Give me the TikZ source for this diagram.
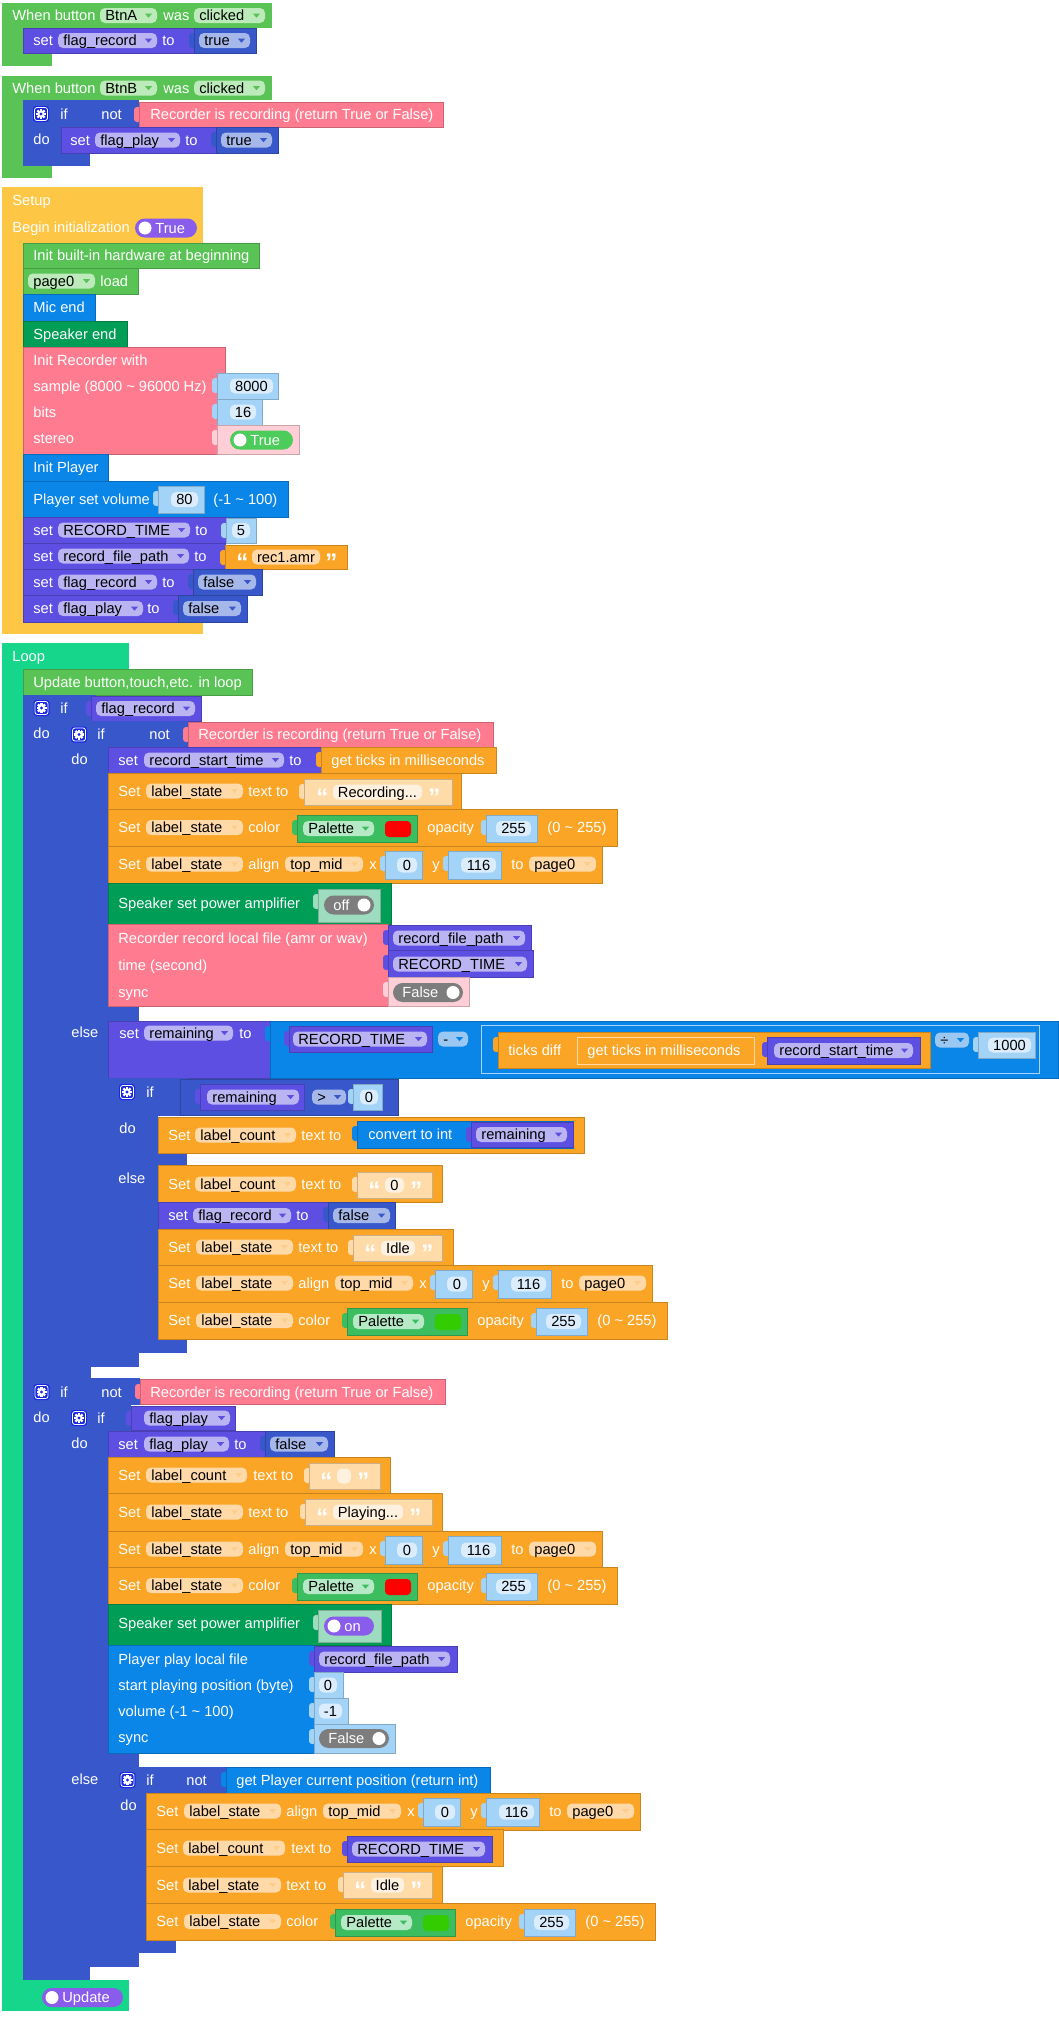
\documentclass[tikz,border=0pt]{standalone}
\usepackage{fontspec}
\setmainfont{Liberation Sans}
\usepackage{tikz}

\definecolor{evgreen}{RGB}{89,196,85}
\definecolor{evpill}{RGB}{189,234,186}
\definecolor{varset}{RGB}{94,79,227}
\definecolor{varpill}{RGB}{186,180,243}
\definecolor{logic}{RGB}{56,87,203}
\definecolor{logpill}{RGB}{166,183,234}
\definecolor{gearbg}{RGB}{25,40,225}
\definecolor{recpink}{RGB}{255,124,144}
\definecolor{pinkbg}{RGB}{255,206,214}
\definecolor{setupyel}{RGB}{254,198,69}
\definecolor{hwblue}{RGB}{10,133,232}
\definecolor{spkgreen}{RGB}{0,157,87}
\definecolor{mintbg}{RGB}{157,220,190}
\definecolor{numblk}{RGB}{163,211,247}
\definecolor{numpill}{RGB}{219,237,252}
\definecolor{lblor}{RGB}{251,165,38}
\definecolor{orpill}{RGB}{255,217,168}
\definecolor{orarrow}{RGB}{253,205,140}
\definecolor{strlight}{RGB}{255,219,170}
\definecolor{strpill}{RGB}{255,241,224}
\definecolor{loopteal}{RGB}{21,214,138}
\definecolor{palgreen}{RGB}{60,189,96}
\definecolor{palpill}{RGB}{182,233,197}
\definecolor{togpurple}{RGB}{138,92,236}
\definecolor{toggreen}{RGB}{76,204,90}
\definecolor{toggrey}{RGB}{125,125,125}
\definecolor{mathpill}{RGB}{155,200,242}
\definecolor{swred}{RGB}{255,0,0}
\definecolor{swgreen}{RGB}{51,204,0}

% plain fill / block with darker edge / value block with input tab
\newcommand{\blkf}[5]{\fill[#1] (#2,#3) rectangle (#4,#5);}
\newcommand{\blks}[5]{\filldraw[#1,draw=#1!80!black,line width=0.3pt] (#2,#3) rectangle (#4,#5);}
\newcommand{\vblk}[5]{%
  \fill[#1,rounded corners=1.5pt] (#2-5,#3+5) rectangle (#2+2,#3+20);
  \blks{#1}{#2}{#3}{#4}{#5}}
% white label
\newcommand{\lbw}[3]{\node[wtxt] at (#1,#2) {#3};}
% dropdown pill: fill, arrow, x1, x2, yc, text
\newcommand{\ddp}[6]{%
  \fill[#1,rounded corners=2.5pt] (#3,#5-7.5) rectangle (#4,#5+7.5);
  \node[ktxt] at (#3+5,#5) {#6};
  \fill[#2] (#4-12,#5-1.8) -- (#4-5,#5-1.8) -- (#4-8.5,#5+2.2) -- cycle;}
% text pill: fill, x1, x2, yc, text
\newcommand{\txp}[5]{%
  \fill[#1,rounded corners=2.5pt] (#2,#4-7.5) rectangle (#3,#4+7.5);
  \node[ktxt,anchor=center] at ({(#2+#3)/2},#4) {#5};}
\newcommand{\numv}[4]{\txp{numpill}{#1}{#2}{#3}{#4}}
\newcommand{\quo}[3]{\node[qtxt] at (#1,#2+13) {#3};}
% toggles
\newcommand{\togl}[5]{%
  \fill[#1,rounded corners=4.8pt] (#2,#4-9.5) rectangle (#3,#4+9.5);
  \fill[white] (#2+10,#4) circle (6.5);
  \lbw{#2+20}{#4}{#5}}
\newcommand{\togr}[5]{%
  \fill[#1,rounded corners=4.8pt] (#2,#4-9.5) rectangle (#3,#4+9.5);
  \fill[white] (#3-10,#4) circle (6.5);
  \lbw{#2+9}{#4}{#5}}
\newcommand{\gearicon}[2]{%
  \fill[gearbg,rounded corners=1.5pt] (#1-8,#2-8) rectangle (#1+8,#2+8);
  \draw[white,line width=0.4pt,rounded corners=1.2pt] (#1-6.5,#2-6.5) rectangle (#1+6.5,#2+6.5);
  \fill[white] (#1,#2) circle (3.6);
  \foreach \a in {0,45,90,135}
    \fill[white,shift={(#1,#2)},rotate=\a] (-1.2,-5) rectangle (1.2,5);
  \fill[gearbg] (#1,#2) circle (1.6);}
\newcommand{\alignrow}[2]{%
  \blks{lblor}{#1}{#2}{#1+494}{#2+37}
  \lbw{#1+10}{#2+18}{Set}
  \ddp{orpill}{orarrow}{#1+38}{#1+135}{#2+18}{label\_state}
  \lbw{#1+140}{#2+18}{align}
  \ddp{orpill}{orarrow}{#1+177}{#1+255}{#2+18}{top\_mid}
  \lbw{#1+261}{#2+18}{x}
  \vblk{numblk}{#1+277}{#2+5}{#1+314}{#2+33}
  \numv{#1+289}{#1+309}{#2+19}{0}
  \lbw{#1+324}{#2+18}{y}
  \vblk{numblk}{#1+340}{#2+5}{#1+393}{#2+33}
  \numv{#1+353}{#1+388}{#2+19}{116}
  \lbw{#1+403}{#2+18}{to}
  \ddp{orpill}{orarrow}{#1+421}{#1+488}{#2+18}{page0}}
\newcommand{\colorrow}[3]{%
  \blks{lblor}{#1}{#2}{#1+509}{#2+37}
  \lbw{#1+10}{#2+18.5}{Set}
  \ddp{orpill}{orarrow}{#1+38}{#1+135}{#2+18.5}{label\_state}
  \lbw{#1+140}{#2+18.5}{color}
  \vblk{palgreen}{#1+189}{#2+6}{#1+309}{#2+33}
  \ddp{palpill}{palgreen}{#1+195}{#1+266}{#2+19.5}{Palette}
  \fill[#3,rounded corners=2pt] (#1+277,#2+12) rectangle (#1+303,#2+28);
  \lbw{#1+319}{#2+18.5}{opacity}
  \vblk{numblk}{#1+378}{#2+6}{#1+429}{#2+33}
  \numv{#1+388}{#1+423}{#2+19.5}{255}
  \lbw{#1+439}{#2+18.5}{(0 \textasciitilde{} 255)}}

\begin{document}
\begin{tikzpicture}[x=0.5pt,y=-0.5pt,
    wtxt/.style={anchor=west,inner sep=0pt,text=white,text height=5.2pt,text depth=0pt,
      font=\fontsize{7.33}{8.8}\selectfont},
    ktxt/.style={wtxt,text=black},
    qtxt/.style={anchor=base west,inner sep=0pt,text=white,font=\fontsize{12}{12}\selectfont\bfseries}]
  \useasboundingbox (0,0) rectangle (1059,2018);
  \fill[white] (0,0) rectangle (1059,2018);

  % --- when BtnA clicked
  \blkf{evgreen}{2}{3}{272}{28}
  \blkf{evgreen}{2}{3}{23}{66}
  \blkf{evgreen}{2}{53}{52}{66}
  \lbw{12}{15.5}{When button}
  \ddp{evpill}{evgreen}{100}{157}{15.5}{BtnA}
  \lbw{163}{15.5}{was}
  \ddp{evpill}{evgreen}{194}{265}{15.5}{clicked}
  \blks{varset}{23}{28}{195}{53}
  \lbw{33}{40.5}{set}
  \ddp{varpill}{varset}{58}{157}{40.5}{flag\_record}
  \lbw{162}{40.5}{to}
  \vblk{logic}{194}{28}{256}{53}
  \ddp{logpill}{logic}{199}{250}{40.5}{true}

  % --- when BtnB clicked
  \blkf{evgreen}{2}{76}{272}{100}
  \blkf{evgreen}{2}{76}{23}{178}
  \blkf{evgreen}{2}{166}{52}{178}
  \lbw{12}{88}{When button}
  \ddp{evpill}{evgreen}{100}{157}{88}{BtnB}
  \lbw{163}{88}{was}
  \ddp{evpill}{evgreen}{194}{265}{88}{clicked}
  \blkf{logic}{23}{100}{139}{127}
  \blkf{logic}{23}{100}{61}{166}
  \blkf{logic}{23}{153}{90}{166}
  \gearicon{41}{114}
  \lbw{60}{114}{if}
  \lbw{101}{114}{not}
  \vblk{recpink}{139}{102}{443}{127}
  \lbw{150}{114.5}{Recorder is recording (return True or False)}
  \lbw{33}{139}{do}
  \blks{varset}{61}{127}{217}{153}
  \lbw{70}{140}{set}
  \ddp{varpill}{varset}{95}{180}{140}{flag\_play}
  \lbw{185}{140}{to}
  \vblk{logic}{216}{127}{278}{153}
  \ddp{logpill}{logic}{221}{272}{140}{true}

  % --- Setup
  \blkf{setupyel}{2}{187}{203}{243}
  \blkf{setupyel}{2}{187}{23}{634}
  \blkf{setupyel}{2}{622}{203}{634}
  \lbw{12}{200}{Setup}
  \lbw{12}{227}{Begin initialization}
  \togl{togpurple}{135}{197}{228}{True}
  \blks{evgreen}{23}{243}{259}{268}
  \lbw{33}{255.5}{Init built-in hardware at beginning}
  \blks{evgreen}{23}{268}{138}{294}
  \ddp{evpill}{evgreen}{28}{95}{281}{page0}
  \lbw{100}{281}{load}
  \blks{hwblue}{23}{294}{95}{321}
  \lbw{33}{307.5}{Mic end}
  \blks{spkgreen}{23}{321}{127}{347}
  \lbw{33}{334}{Speaker end}
  \blks{recpink}{23}{347}{225}{454}
  \lbw{33}{360}{Init Recorder with}
  \lbw{33}{386}{sample (8000 \textasciitilde{} 96000 Hz)}
  \lbw{33}{412}{bits}
  \lbw{33}{438}{stereo}
  \vblk{numblk}{217}{373}{278}{399}
  \numv{230}{273}{386}{8000}
  \vblk{numblk}{217}{399}{262}{425}
  \numv{230}{256}{412}{16}
  \vblk{pinkbg}{217}{425}{299}{454}
  \togl{toggreen}{230}{293}{440}{True}
  \blks{hwblue}{23}{454}{108}{481}
  \lbw{33}{467.5}{Init Player}
  \blks{hwblue}{23}{481}{288}{517}
  \lbw{33}{499}{Player set volume}
  \vblk{numblk}{158}{486}{204}{513}
  \numv{171}{198}{499.5}{80}
  \lbw{213}{499}{(-1 \textasciitilde{} 100)}
  \blks{varset}{23}{517}{227}{543}
  \lbw{33}{530}{set}
  \ddp{varpill}{varset}{58}{190}{530}{RECORD\_TIME}
  \lbw{195}{530}{to}
  \vblk{numblk}{226}{518}{256}{543}
  \numv{232}{250}{530.5}{5}
  \blks{varset}{23}{543}{225}{569}
  \lbw{33}{556}{set}
  \ddp{varpill}{varset}{58}{189}{556}{record\_file\_path}
  \lbw{194}{556}{to}
  \vblk{lblor}{225}{545}{347}{569}
  \quo{236}{557}{“}
  \txp{orpill}{252}{320}{557}{rec1.amr}
  \quo{325}{557}{”}
  \blks{varset}{23}{569}{193}{595}
  \lbw{33}{582}{set}
  \ddp{varpill}{varset}{58}{157}{582}{flag\_record}
  \lbw{162}{582}{to}
  \vblk{logic}{193}{569}{262}{595}
  \ddp{logpill}{logic}{198}{256}{582}{false}
  \blks{varset}{23}{595}{178}{622}
  \lbw{33}{608.5}{set}
  \ddp{varpill}{varset}{58}{143}{608.5}{flag\_play}
  \lbw{147}{608.5}{to}
  \vblk{logic}{178}{595}{247}{622}
  \ddp{logpill}{logic}{183}{241}{608.5}{false}

  % --- Loop
  \blkf{loopteal}{2}{643}{129}{669}
  \blkf{loopteal}{2}{643}{23}{2011}
  \blkf{loopteal}{2}{1980}{129}{2011}
  \lbw{12}{656}{Loop}
  \blks{evgreen}{23}{669}{252}{695}
  \lbw{33}{682}{Update button,touch,etc. in loop}

  % if flag_record
  \blkf{logic}{23}{695}{96}{721}
  \blkf{logic}{23}{695}{60}{1378}
  \blkf{logic}{23}{1365}{91}{1378}
  \gearicon{41.5}{708}
  \lbw{60}{708}{if}
  \vblk{varset}{91}{696}{201}{721}
  \ddp{varpill}{varset}{96}{195}{708.5}{flag\_record}
  \lbw{33}{733}{do}

  % if not recording
  \blkf{logic}{60}{721}{188}{747}
  \blkf{logic}{60}{721}{108}{1367}
  \blkf{logic}{60}{1006}{139}{1021}
  \blkf{logic}{60}{1353}{139}{1367}
  \gearicon{79}{734.5}
  \lbw{97}{734.5}{if}
  \lbw{149}{734.5}{not}
  \vblk{recpink}{188}{722}{493}{747}
  \lbw{198}{734.5}{Recorder is recording (return True or False)}
  \lbw{71}{759}{do}
  \blks{varset}{108}{747}{321}{773}
  \lbw{118}{760}{set}
  \ddp{varpill}{varset}{144}{284}{760}{record\_start\_time}
  \lbw{289}{760}{to}
  \vblk{lblor}{321}{747}{496}{773}
  \lbw{331}{760}{get ticks in milliseconds}
  \blks{lblor}{108}{773}{461}{809}
  \lbw{118}{791}{Set}
  \ddp{orpill}{orarrow}{146}{243}{791}{label\_state}
  \lbw{248}{791}{text to}
  \vblk{strlight}{304}{779}{452}{805}
  \quo{316}{792}{“}
  \txp{strpill}{333}{422}{792}{Recording...}
  \quo{428}{792}{”}
  \colorrow{108}{809}{swred}
  \alignrow{108}{846}
  \blks{spkgreen}{108}{883}{391}{924}
  \lbw{118}{903}{Speaker set power amplifier}
  \vblk{mintbg}{318}{889}{380}{922}
  \togr{toggrey}{324}{374}{905}{off}
  \blks{recpink}{108}{924}{388}{1006}
  \lbw{118}{938}{Recorder record local file (amr or wav)}
  \lbw{118}{965}{time (second)}
  \lbw{118}{992}{sync}
  \vblk{varset}{388}{925}{531}{950}
  \ddp{varpill}{varset}{393}{525}{938}{record\_file\_path}
  \vblk{varset}{388}{950}{533}{977}
  \ddp{varpill}{varset}{393}{527}{964}{RECORD\_TIME}
  \vblk{pinkbg}{388}{977}{469}{1006}
  \togr{toggrey}{393}{463}{992.5}{False}

  \lbw{71}{1032}{else}
  \blks{varset}{108}{1021}{270}{1078}
  \lbw{119}{1033}{set}
  \ddp{varpill}{varset}{144}{233}{1033}{remaining}
  \lbw{239}{1033}{to}
  \vblk{hwblue}{270}{1021}{1058}{1078}
  \vblk{varset}{289}{1026}{432}{1052}
  \ddp{varpill}{varset}{293}{427}{1039}{RECORD\_TIME}
  \ddp{mathpill}{hwblue}{438}{468}{1039}{-}
  \fill[hwblue,rounded corners=1.5pt] (476,1030) rectangle (483,1045);
  \filldraw[hwblue,draw=white!65!hwblue,line width=0.5pt] (481,1025) rectangle (1039,1073);
  \vblk{lblor}{498}{1032}{930}{1068}
  \lbw{508}{1050}{ticks diff}
  \fill[lblor,rounded corners=1.5pt] (572,1042) rectangle (579,1057);
  \filldraw[lblor,draw=orpill,line width=0.5pt] (577,1037) rectangle (754,1064);
  \lbw{587}{1050.5}{get ticks in milliseconds}
  \vblk{varset}{767}{1037}{920}{1064}
  \ddp{varpill}{varset}{774}{913}{1050.5}{record\_start\_time}
  \ddp{mathpill}{hwblue}{935}{969}{1040}{÷}
  \vblk{numblk}{978}{1032}{1035}{1058}
  \numv{988}{1031}{1045}{1000}

  % if remaining > 0
  \blkf{logic}{108}{1078}{187}{1116}
  \blkf{logic}{108}{1078}{158}{1353}
  \blkf{logic}{108}{1153}{187}{1165}
  \blkf{logic}{108}{1339}{187}{1353}
  \gearicon{127}{1092}
  \lbw{146}{1092}{if}
  \fill[logic,rounded corners=1.5pt] (175,1085) rectangle (182,1100);
  \filldraw[logic,draw=logic!80!black,line width=0.3pt] (180,1079) rectangle (398,1115);
  \vblk{varset}{200}{1084}{304}{1110}
  \ddp{varpill}{varset}{207}{299}{1097}{remaining}
  \ddp{logpill}{logic}{312}{346}{1097}{>}
  \vblk{numblk}{353}{1084}{382}{1110}
  \numv{360}{378}{1097}{0}
  \lbw{119}{1128}{do}
  \blks{lblor}{158}{1117}{584}{1153}
  \lbw{168}{1135}{Set}
  \ddp{orpill}{orarrow}{195}{296}{1135}{label\_count}
  \lbw{301}{1135}{text to}
  \vblk{hwblue}{357}{1121}{573}{1148}
  \lbw{368}{1134.5}{convert to int}
  \vblk{varset}{471}{1122}{573}{1147}
  \ddp{varpill}{varset}{476}{567}{1134.5}{remaining}
  \lbw{118}{1178}{else}
  \blks{lblor}{158}{1165}{442}{1202}
  \lbw{168}{1184}{Set}
  \ddp{orpill}{orarrow}{195}{296}{1184}{label\_count}
  \lbw{301}{1184}{text to}
  \vblk{strlight}{357}{1172}{432}{1198}
  \quo{368}{1185}{“}
  \txp{strpill}{385}{404}{1185}{0}
  \quo{410}{1185}{”}
  \blks{varset}{158}{1202}{328}{1229}
  \lbw{168}{1215.5}{set}
  \ddp{varpill}{varset}{193}{291}{1215.5}{flag\_record}
  \lbw{296}{1215.5}{to}
  \vblk{logic}{328}{1202}{395}{1229}
  \ddp{logpill}{logic}{333}{390}{1215.5}{false}
  \blks{lblor}{158}{1229}{453}{1265}
  \lbw{168}{1247}{Set}
  \ddp{orpill}{orarrow}{196}{293}{1247}{label\_state}
  \lbw{298}{1247}{text to}
  \vblk{strlight}{353}{1235}{442}{1261}
  \quo{364}{1248}{“}
  \txp{strpill}{381}{415}{1248}{Idle}
  \quo{421}{1248}{”}
  \alignrow{158}{1265}
  \colorrow{158}{1302}{swgreen}

  % if not recording (play)
  \blkf{logic}{23}{1378}{140}{1405}
  \blkf{logic}{23}{1378}{60}{1980}
  \blkf{logic}{23}{1967}{90}{1980}
  \gearicon{41.5}{1392}
  \lbw{60}{1392}{if}
  \lbw{101}{1392}{not}
  \vblk{recpink}{140}{1379}{445}{1404}
  \lbw{150}{1392}{Recorder is recording (return True or False)}
  \lbw{33}{1417}{do}

  % if flag_play
  \blkf{logic}{60}{1405}{131}{1431}
  \blkf{logic}{60}{1405}{108}{1967}
  \blkf{logic}{60}{1753}{139}{1767}
  \blkf{logic}{60}{1953}{139}{1967}
  \gearicon{79}{1418}
  \lbw{97}{1418}{if}
  \vblk{varset}{131}{1406}{235}{1430}
  \ddp{varpill}{varset}{144}{230}{1418}{flag\_play}
  \lbw{71}{1443}{do}
  \blks{varset}{108}{1431}{265}{1457}
  \lbw{118}{1444}{set}
  \ddp{varpill}{varset}{144}{229}{1444}{flag\_play}
  \lbw{234}{1444}{to}
  \vblk{logic}{265}{1431}{334}{1457}
  \ddp{logpill}{logic}{270}{328}{1444}{false}
  \blks{lblor}{108}{1457}{390}{1493}
  \lbw{118}{1475}{Set}
  \ddp{orpill}{orarrow}{146}{247}{1475}{label\_count}
  \lbw{253}{1475}{text to}
  \vblk{strlight}{309}{1463}{380}{1489}
  \quo{320}{1476}{“}
  \txp{strpill}{337}{351}{1476}{}
  \quo{357}{1476}{”}
  \blks{lblor}{108}{1493}{442}{1531}
  \lbw{118}{1512}{Set}
  \ddp{orpill}{orarrow}{146}{243}{1512}{label\_state}
  \lbw{248}{1512}{text to}
  \vblk{strlight}{305}{1499}{432}{1525}
  \quo{316}{1512}{“}
  \txp{strpill}{333}{403}{1512}{Playing...}
  \quo{409}{1512}{”}
  \alignrow{108}{1531}
  \colorrow{108}{1567}{swred}
  \blks{spkgreen}{108}{1604}{391}{1645}
  \lbw{118}{1623}{Speaker set power amplifier}
  \vblk{mintbg}{318}{1610}{381}{1642}
  \togl{togpurple}{324}{374}{1626}{on}
  \blks{hwblue}{108}{1645}{314}{1753}
  \lbw{118}{1659}{Player play local file}
  \lbw{118}{1685}{start playing position (byte)}
  \lbw{118}{1711}{volume (-1 \textasciitilde{} 100)}
  \lbw{118}{1737}{sync}
  \vblk{varset}{314}{1646}{457}{1672}
  \ddp{varpill}{varset}{319}{450}{1659}{record\_file\_path}
  \vblk{numblk}{314}{1672}{343}{1698}
  \numv{319}{337}{1685}{0}
  \vblk{numblk}{314}{1698}{348}{1724}
  \numv{319}{342}{1711}{-1}
  \vblk{numblk}{314}{1724}{395}{1753}
  \togr{toggrey}{319}{389}{1738.5}{False}
  \lbw{71}{1779}{else}

  % if not player position
  \blkf{logic}{108}{1767}{226}{1793}
  \blkf{logic}{108}{1767}{146}{1953}
  \blkf{logic}{108}{1941}{176}{1953}
  \gearicon{127.5}{1780}
  \lbw{146}{1780}{if}
  \lbw{186}{1780}{not}
  \vblk{hwblue}{226}{1767}{490}{1793}
  \lbw{236}{1780}{get Player current position (return int)}
  \lbw{120}{1805}{do}
  \alignrow{146}{1793}
  \blks{lblor}{146}{1829}{503}{1866}
  \lbw{156}{1848}{Set}
  \ddp{orpill}{orarrow}{183}{285}{1848}{label\_count}
  \lbw{291}{1848}{text to}
  \vblk{varset}{347}{1836}{492}{1862}
  \ddp{varpill}{varset}{352}{485}{1849}{RECORD\_TIME}
  \blks{lblor}{146}{1866}{442}{1903}
  \lbw{156}{1885}{Set}
  \ddp{orpill}{orarrow}{183}{281}{1885}{label\_state}
  \lbw{286}{1885}{text to}
  \vblk{strlight}{343}{1872}{432}{1898}
  \quo{354}{1885}{“}
  \txp{strpill}{371}{404}{1885}{Idle}
  \quo{410}{1885}{”}
  \colorrow{146}{1903}{swgreen}

  % loop footer
  \togl{togpurple}{42}{123}{1997.5}{Update}
\end{tikzpicture}
\end{document}
